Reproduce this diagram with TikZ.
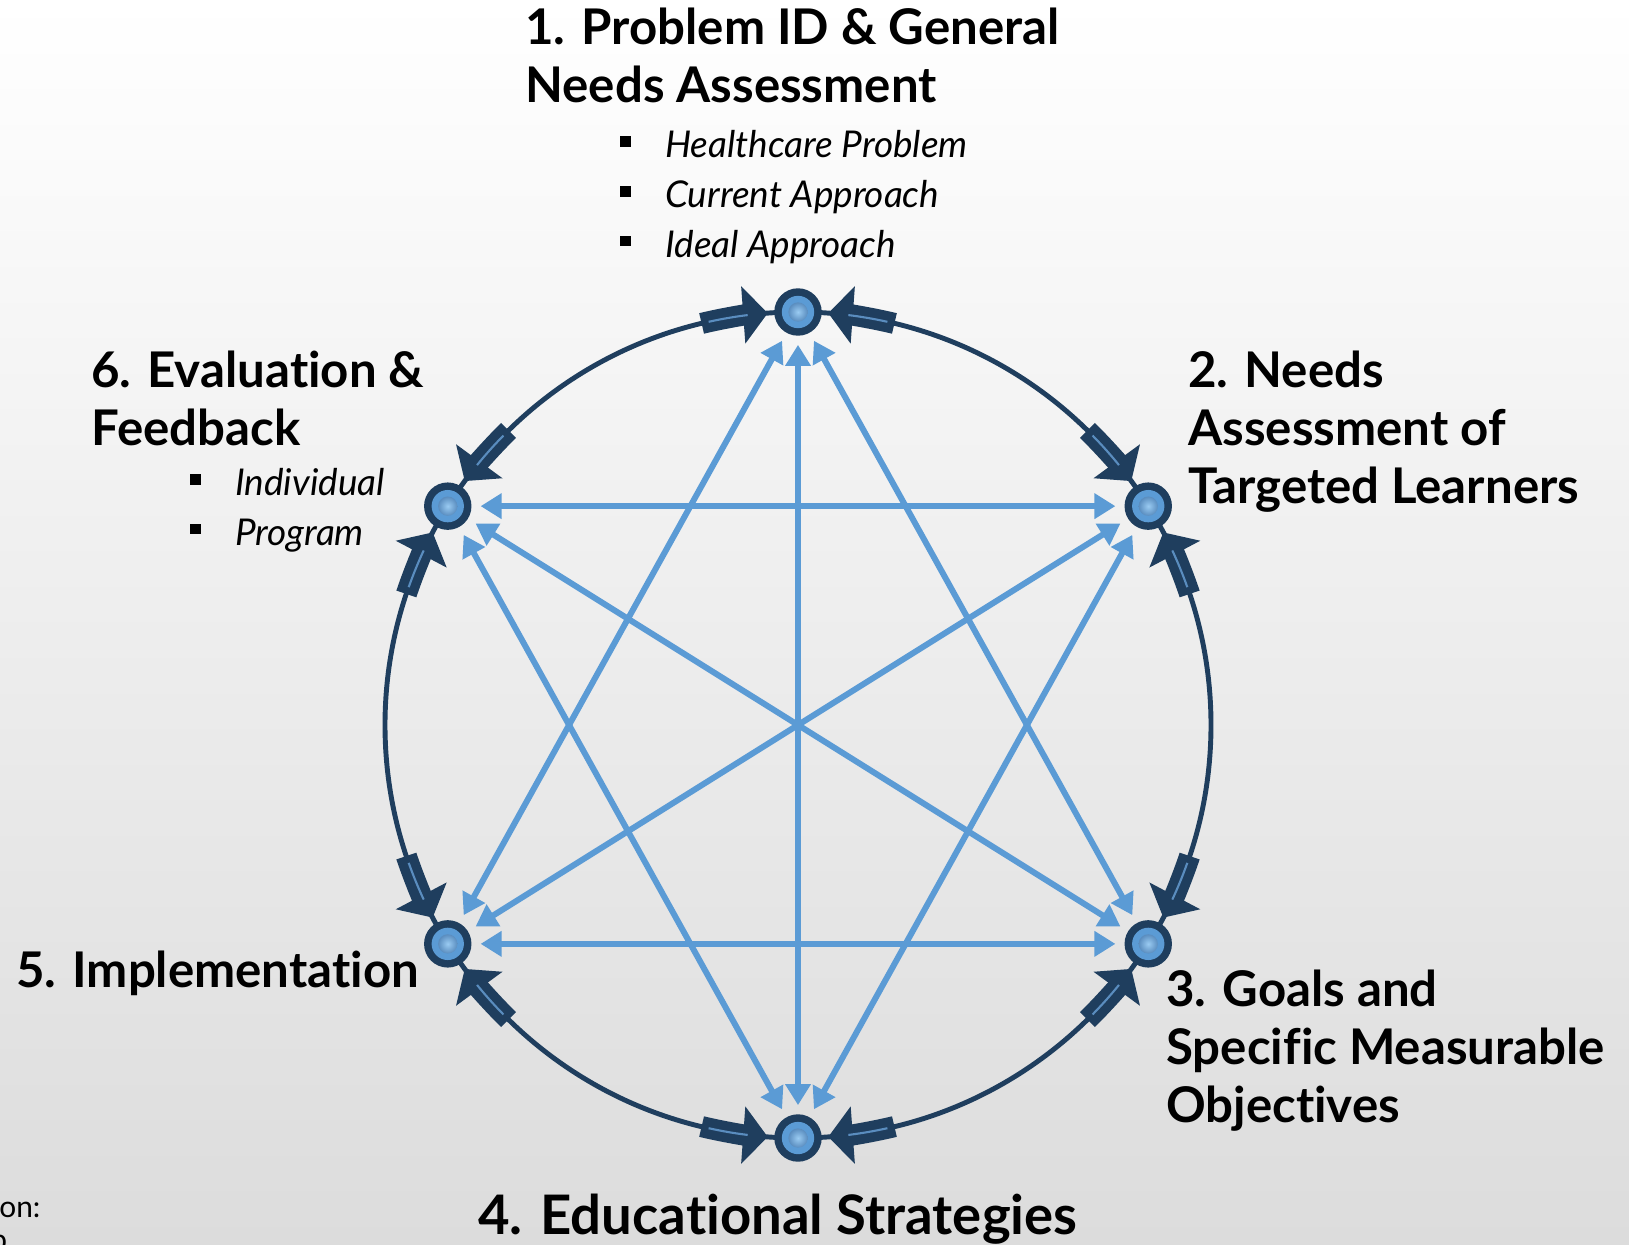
\documentclass[tikz,border=0pt]{standalone}
\usepackage{fontspec}
\setmainfont{Lato}[Ligatures=NoCommon]
\definecolor{KNavy}{HTML}{1F3E5E}
\definecolor{KBlue}{HTML}{5B9BD5}
\definecolor{KSteel}{HTML}{5A8DBF}
\definecolor{KPale}{HTML}{9ACBF2}
\definecolor{KFloor}{HTML}{DCDCDC}
\definecolor{KMist}{HTML}{F3F3F3}
\usepackage{tikz}
\usetikzlibrary{arrows.meta,positioning,calc}
\newcommand{\sqbullet}{\makebox[25.5pt][l]{\rule[6pt]{6pt}{6pt}}}

\begin{document}
\begin{tikzpicture}[x=0.02cm,y=0.02cm,
    stage/.style={circle,fill=KNavy,minimum size=27pt,inner sep=0pt,
      path picture={\fill[KBlue] (path picture bounding box.center) circle (9.2pt);
        \shade[inner color=KPale,outer color=KSteel] (path picture bounding box.center) circle (5.5pt);}},
    block/.style={KNavy,line width=12pt,-{Triangle[width=32pt,length=14pt]}},
    blockglow/.style={KSteel,line width=1.2pt},
    chord/.style={KBlue,line width=3.4pt,
      {Triangle[width=14pt,length=12pt]}-{Triangle[width=14pt,length=12pt]},
      shorten <=5pt,shorten >=5pt},
    heading/.style={font=\fontsize{28}{33}\selectfont\bfseries,align=left,anchor=base west,inner sep=0pt},
    subitems/.style={font=\fontsize{21}{28.4}\selectfont\itshape,align=left,anchor=base west,inner sep=0pt}]
    % page and backdrop
    \useasboundingbox (0,0) rectangle (1629,-1244);
    \shade[top color=white,middle color=KMist,bottom color=KFloor] (0,0) rectangle (1629,-1244);
    \coordinate (c) at (798,-725);
    % outer cycle with block arrows
    \draw[KNavy,line width=2.8pt] (c) circle[radius=413];
    \foreach \a in {90,32,-32,-90,-148,148}{
      \foreach \s in {1,-1}{
        \pgfmathsetmacro\tailang{\a+\s*13.5}
        \pgfmathsetmacro\tipang{\a+\s*4.2}
        \pgfmathsetmacro\glowa{\a+\s*12.5}
        \pgfmathsetmacro\glowb{\a+\s*7}
        \draw[block] ($(c)+(\tailang:413)$) arc[start angle=\tailang,end angle=\tipang,radius=413];
        \draw[blockglow] ($(c)+(\glowa:413)$) arc[start angle=\glowa,end angle=\glowb,radius=413];
      }
    }
    % stages
    \node[stage] (s1) at ($(c)+(90:413)$) {};
    \node[stage] (s2) at ($(c)+(32:413)$) {};
    \node[stage] (s3) at ($(c)+(-32:413)$) {};
    \node[stage] (s4) at ($(c)+(-90:413)$) {};
    \node[stage] (s5) at ($(c)+(-148:413)$) {};
    \node[stage] (s6) at ($(c)+(148:413)$) {};
    % cross links
    \foreach \p/\q in {s1/s3,s1/s4,s1/s5,s2/s4,s2/s5,s2/s6,s3/s5,s3/s6,s4/s6}
      \draw[chord] (\p) -- (\q);
    % labels (anchored on the last line)
    \node[heading] (t1) at (525,-102) {1. Problem ID \& General\\Needs Assessment};
    \node[subitems] (l1) at (620,-257) {\sqbullet Healthcare Problem\\\sqbullet Current Approach\\\sqbullet Ideal Approach};
    \node[heading] (t2) at (1188,-503) {2. Needs\\Assessment of\\Targeted Learners};
    \node[heading] (t3) at (1166,-1122) {3. Goals and\\Specific Measurable\\Objectives};
    \node[heading,font=\fontsize{31}{36}\selectfont\bfseries] (t4) at (478,-1234) {4. Educational Strategies};
    \node[heading] (t5) at (16,-987) {5. Implementation};
    \node[heading] (t6) at (91,-445) {6. Evaluation \&\\Feedback};
    \node[subitems] (l6) at (190,-545) {\sqbullet Individual\\\sqbullet Program};
    % cut-off source note
    \node[font=\fontsize{17}{21}\selectfont,anchor=base west,inner sep=0pt] (src) at (-1,-1217) {on:};
    \node[font=\fontsize{17}{21}\selectfont,anchor=base west,inner sep=0pt] (srcb) at (-10,-1250) {b};
\end{tikzpicture}
\end{document}
